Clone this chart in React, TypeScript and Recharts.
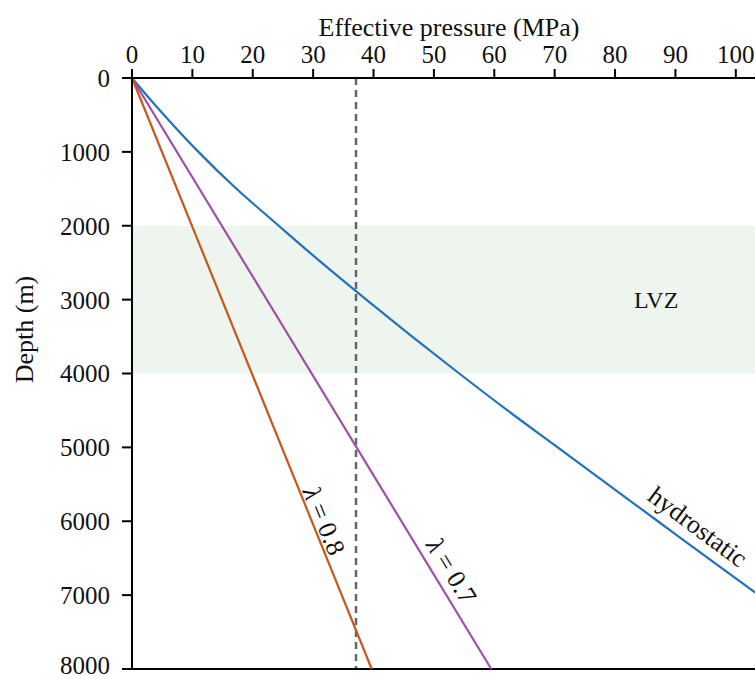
import { ComposedChart, Line, XAxis, YAxis, ReferenceArea, ReferenceLine, ReferenceDot } from "recharts";

const FONT = "'Liberation Serif', 'Times New Roman', serif";

// depth (m) down the y axis
const DEPTHS = [0, 250, 500, 750, 1000, 1500, 2000, 2500, 3000, 3500, 4000, 4500, 5000, 5500, 6000, 6500, 7000, 8000];
// effective pressure (MPa)
const HYDROSTATIC = [0, 2.6, 5.3, 8.1, 11.0, 17.3, 24.3, 31.4, 38.8, 46.4, 54.2, 62.2, 70.5, 78.8, 87.1, 95.4, 103.8, null];
const LAMBDA_08 = [0, null, null, null, null, null, null, null, null, null, null, null, null, null, null, null, null, 39.7];
const LAMBDA_07 = [0, null, null, null, null, null, null, null, null, null, null, null, null, null, null, null, null, 59.5];

const X_TICKS = [0, 10, 20, 30, 40, 50, 60, 70, 80, 90, 100];
const Y_TICKS = [0, 1000, 2000, 3000, 4000, 5000, 6000, 7000, 8000];

const LVZ_TOP = 2000;
const LVZ_BOTTOM = 4000;
const CUTOFF = 37.1;

const data = DEPTHS.map((d, i) => ({
  depth: d,
  hydro: HYDROSTATIC[i],
  l08: LAMBDA_08[i],
  l07: LAMBDA_07[i],
}));

// label anchors, in data units (MPa, m)
const CURVE_LABELS = [
  { key: "l08", greek: true, text: " = 0.8", x: 31.8, depth: 5995, angle: 67.9 },
  { key: "l07", greek: true, text: " = 0.7", x: 52.9, depth: 6671, angle: 58.7 },
  { key: "hydro", greek: false, text: "hydrostatic", x: 93.7, depth: 6076, angle: 36.6 },
  { key: "lvz", greek: false, text: "LVZ", x: 86.8, depth: 3000, angle: 0 },
];

function rotated(text: string, greek: boolean, angle: number, size: number) {
  return (props: any) => {
    const vb = props.viewBox || { x: 0, y: 0, width: 0, height: 0 };
    const cx = vb.x + (vb.width || 0) / 2;
    const cy = vb.y + (vb.height || 0) / 2;
    return (
      <text x={cx} y={cy} transform={`rotate(${angle} ${cx} ${cy})`} textAnchor="middle"
        dominantBaseline="central" fontSize={size} fontFamily={FONT} fill="#111">
        {greek && <tspan fontStyle="italic">λ</tspan>}
        {text}
      </text>
    );
  };
}

export default function App() {
  return (
    <div style={{ position: "fixed", left: 0, top: 0, width: 755, height: 679, overflow: "hidden", background: "#fff" }}>
      <ComposedChart width={780} height={679} data={data} layout="vertical"
        margin={{ top: 0, right: 14, bottom: 10, left: 0 }}>
        <ReferenceArea y1={LVZ_TOP} y2={LVZ_BOTTOM} fill="#eef5ee" fillOpacity={1} stroke="none" />
        <XAxis type="number" orientation="top" domain={[0, 105]} ticks={X_TICKS} height={78}
          axisLine={{ stroke: "#000", strokeWidth: 2 }} tickLine={{ stroke: "#000", strokeWidth: 2 }}
          tickSize={9} tickMargin={6} tick={{ fill: "#111", fontSize: 25, fontFamily: FONT }}
          label={{
            content: (p: any) => {
              const vb = p.viewBox || { x: 132, width: 634 };
              return (
                <text x={vb.x + vb.width / 2} y={36} textAnchor="middle" fontSize={26} fontFamily={FONT} fill="#111">
                  Effective pressure (MPa)
                </text>
              );
            },
          }} />
        <YAxis type="number" dataKey="depth" domain={[0, 8000]} ticks={Y_TICKS} width={132}
          axisLine={{ stroke: "#000", strokeWidth: 2 }} tickLine={{ stroke: "#000", strokeWidth: 2 }}
          tickSize={10} tickMargin={12} tick={{ fill: "#111", fontSize: 25, fontFamily: FONT }}
          label={{
            content: (p: any) => {
              const vb = p.viewBox || { x: 0, y: 78, height: 591 };
              const cx = vb.x + 24;
              const cy = vb.y + vb.height / 2 - 44;
              return (
                <text x={cx} y={cy} transform={`rotate(-90 ${cx} ${cy})`} textAnchor="middle"
                  dominantBaseline="central" fontSize={26} fontFamily={FONT} fill="#111">
                  Depth (m)
                </text>
              );
            },
          }} />
        <ReferenceLine x={CUTOFF} stroke="#666" strokeWidth={2.5} strokeDasharray="7 5" />
        <ReferenceLine y={8000} stroke="#000" strokeWidth={2} />
        <Line type="monotone" dataKey="hydro" stroke="#1f72bd" strokeWidth={2.2} dot={false} connectNulls isAnimationActive={false} />
        <Line type="linear" dataKey="l07" stroke="#a04fa8" strokeWidth={2.2} dot={false} connectNulls isAnimationActive={false} />
        <Line type="linear" dataKey="l08" stroke="#c8571a" strokeWidth={2.2} dot={false} connectNulls isAnimationActive={false} />
        {CURVE_LABELS.map((l) => (
          <ReferenceDot key={l.key} x={l.x} y={l.depth} r={0} fill="none" stroke="none"
            label={{ content: rotated(l.text, l.greek, l.angle, l.key === "lvz" ? 24 : 26) }} />
        ))}
      </ComposedChart>
    </div>
  );
}
